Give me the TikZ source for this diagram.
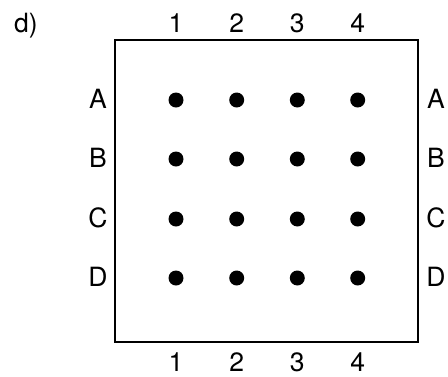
\documentclass[tikz,border=0pt]{standalone}
\usepackage{fontspec}
\setmainfont{TeX Gyre Heros}
\begin{document}
\begin{tikzpicture}[x=1pt,y=-1pt,
  lbl/.style={inner sep=0pt,anchor=base,font=\fontsize{26.5}{30}\selectfont},
  dot/.style={circle,fill=black,inner sep=0pt,minimum size=15pt}]
\useasboundingbox (0,0) rectangle (448,376);
\node[lbl] (title) at (26,32) {d)};
\node[draw,line width=1.4pt,minimum width=303pt,minimum height=302pt,inner sep=0pt] (sq) at (266.5,191) {};
\foreach \c/\x in {1/176,2/236.7,3/297.3,4/357.7}{
  \node[lbl] (t\c) at (\x,32) {\c};
  \node[lbl] (b\c) at (\x,371) {\c};
}
\foreach \r/\y in {A/100,B/159,C/219,D/278}{
  \node[lbl] (l\r) at (98,\y+8) {\r};
  \node[lbl] (r\r) at (436,\y+8) {\r};
  \foreach \c/\x in {1/176,2/236.7,3/297.3,4/357.7}{
    \node[dot] (d\r\c) at (\x,\y) {};
  }
}
\end{tikzpicture}
\end{document}
